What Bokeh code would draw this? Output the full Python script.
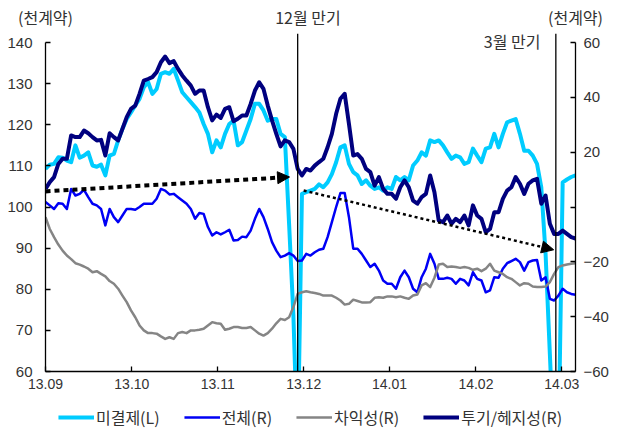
from bokeh.plotting import figure
from bokeh.layouts import column
from bokeh.models import (ColumnDataSource, Range1d, LinearAxis, FixedTicker, Span, Label,
                          Arrow, NormalHead, Legend, LegendItem)
from bokeh.embed import file_html
from bokeh.resources import INLINE

# ---------------- data (trading-day index, Sep 2013 - Mar 2014) ----------------
open_interest_L = [
    109.3, 110.3, 110.5, 112.1, 112.0, 111.3, 110.9, 115.0, 112.0, 112.5,
    113.3, 110.1, 109.8, 110.3, 107.7, 112.5, 112.9, 116.2, 119.0, 121.4,
    123.0, 124.7, 126.3, 129.1, 130.4, 127.5, 128.7, 132.4, 132.8, 132.4,
    133.6, 130.8, 127.9, 126.7, 125.5, 124.3, 123.0, 120.2, 117.8, 113.3,
    116.2, 114.5, 117.8, 120.2, 121.0, 115.0, 115.8, 118.6, 121.4, 125.1,
    125.1, 123.5, 121.0, 121.4, 121.4, 117.8, 117.0, 95.7, 73.6, 40.0,
    103.2, 103.6, 104.0, 104.4, 105.5, 104.8, 106.0, 108.0, 110.9, 114.5,
    115.0, 110.5, 108.5, 107.7, 105.6, 106.5, 105.2, 104.4, 104.8, 104.0,
    104.8, 104.4, 107.3, 106.5, 107.3, 106.5, 110.1, 111.3, 113.3, 112.5,
    116.2, 115.8, 116.2, 115.0, 113.3, 111.7, 112.5, 112.1, 110.5, 110.9,
    114.2, 112.5, 110.9, 114.2, 114.5, 117.8, 114.5, 117.8, 120.6, 121.0,
    121.4, 117.8, 113.7, 113.7, 112.5, 110.5, 104.8, 88.6, 64.3, 40.0,
    40.0, 106.0, 106.7, 107.3, 107.7]

total_R = [
    1.8, 0.6, -0.7, 1.4, 1.2, -0.7, 6.6, 4.2, 4.8, 6.3,
    3.6, 1.2, 0.6, -0.7, -6.7, -0.7, -3.7, -5.5, -3.1, -0.7,
    -0.7, -1.0, 0.0, 1.2, 1.2, 1.2, 3.0, 6.6, 6.0, 4.6,
    4.8, 3.6, 2.4, 1.2, -0.7, -4.3, -2.2, -2.5, -7.3, -10.4,
    -9.2, -10.0, -9.2, -8.3, -12.2, -12.0, -10.8, -11.0, -8.6, -4.3,
    -0.7, -3.7, -8.0, -12.8, -15.9, -18.3, -17.7, -16.8, -17.7, -19.7,
    -19.5, -17.1, -17.7, -16.5, -15.6, -15.2, -11.0, -5.5, 0.0, 5.1,
    5.1, -3.7, -15.2, -15.2, -17.1, -19.5, -21.9, -20.7, -23.2, -26.8,
    -28.0, -28.0, -29.8, -25.6, -23.2, -25.6, -29.8, -31.1, -25.6, -22.5,
    -17.1, -20.7, -26.2, -26.2, -25.8, -26.2, -28.0, -26.2, -26.8, -28.6,
    -23.8, -26.2, -26.8, -31.1, -30.4, -25.6, -25.8, -22.5, -20.5, -19.7,
    -18.9, -20.1, -23.2, -20.1, -19.5, -19.3, -26.8, -25.6, -33.5, -34.1,
    -32.3, -29.8, -31.1, -31.7, -32.0]

arbitrage_R = [
    -3.7, -8.0, -11.0, -13.7, -15.9, -17.7, -19.0, -20.5, -21.0, -21.7,
    -22.5, -23.8, -23.4, -24.4, -25.3, -27.0, -28.0, -29.8, -32.3, -34.7,
    -37.7, -40.2, -43.2, -45.0, -46.0, -46.0, -46.2, -47.2, -48.1, -47.5,
    -48.1, -46.0, -45.6, -46.0, -45.0, -45.0, -44.8, -44.4, -43.2, -42.0,
    -42.4, -42.6, -44.8, -44.4, -43.8, -43.8, -44.1, -44.1, -43.8, -45.0,
    -46.2, -46.9, -46.0, -44.4, -42.4, -40.8, -41.2, -40.2, -36.5, -31.7,
    -31.1, -30.7, -31.1, -31.4, -31.7, -32.3, -32.3, -32.3, -33.1, -34.1,
    -35.6, -35.3, -33.8, -34.3, -34.8, -34.8, -34.7, -33.1, -32.9, -33.1,
    -32.6, -32.6, -32.9, -32.6, -33.1, -33.5, -32.3, -31.9, -28.6, -27.8,
    -29.2, -25.8, -21.0, -20.7, -21.9, -21.7, -21.9, -22.2, -21.9, -22.2,
    -22.9, -22.5, -23.4, -22.5, -20.7, -23.2, -23.8, -24.4, -25.6, -26.2,
    -27.4, -28.6, -27.8, -28.0, -29.0, -29.2, -29.2, -29.0, -27.4, -24.4,
    -21.9, -21.3, -21.0, -20.7, -20.5]

spec_hedge_R = [
    6.6, 9.1, 10.9, 15.7, 17.6, 17.6, 26.1, 25.5, 25.5, 27.9,
    26.9, 25.5, 24.3, 24.5, 18.8, 26.9, 25.5, 24.3, 28.5, 32.8,
    35.8, 37.0, 41.3, 46.1, 46.7, 47.4, 49.2, 52.8, 54.9, 52.5,
    53.2, 50.4, 48.0, 46.1, 44.3, 41.3, 42.5, 42.5, 36.4, 31.6,
    33.7, 32.5, 35.8, 36.4, 31.3, 32.2, 33.4, 33.4, 37.6, 42.5,
    45.5, 43.1, 37.0, 31.6, 26.7, 22.1, 24.3, 23.7, 21.2, 13.9,
    11.5, 13.9, 13.3, 15.1, 16.4, 17.6, 21.8, 26.7, 34.0, 39.5,
    41.3, 30.3, 18.8, 19.3, 17.6, 13.9, 12.7, 7.8, 10.9, 6.6,
    4.8, 4.8, 3.0, 7.2, 9.7, 7.2, 2.3, 1.2, 3.6, 4.8,
    11.5, 5.4, -4.9, -5.5, -3.1, -6.1, -4.3, -5.5, -3.1, -6.7,
    0.6, -3.1, -4.3, -9.2, -8.0, -1.9, -1.9, 3.0, 6.0, 7.2,
    10.9, 8.5, 4.8, 8.5, 9.7, 10.3, 1.2, 4.2, -6.1, -9.8,
    -9.8, -8.6, -9.8, -11.0, -11.5]

day_index = list(range(len(open_interest_L)))

x_tick_pos = [0, 20.2, 40.3, 60.4, 80.5, 100.7, 120.8]
x_tick_labels = ["13.09", "13.10", "13.11", "13.12", "14.01", "14.02", "14.03"]
left_ticks = [60, 70, 80, 90, 100, 110, 120, 130, 140]
right_ticks = [-60, -40, -20, 0, 20, 40, 60]
right_labels = ["\u221260", "\u221240", "\u221220", "", "20", "40", "60"]
expiry_pos = [59.0, 119.4]
expiry_labels = ["12\uc6d4 \ub9cc\uae30", "3\uc6d4 \ub9cc\uae30"]
series_names = ["\ubbf8\uacb0\uc81c(L)", "\uc804\uccb4(R)", "\ucc28\uc775\uc131(R)", "\ud22c\uae30/\ud5e4\uc9c0\uc131(R)"]
unit_label = "(\ucc9c\uacc4\uc57d)"

# ---------------- figure ----------------
CYAN, BLUE, GRAY, NAVY = "#00CCFF", "#0000F5", "#858585", "#00007F"
COLORS = [CYAN, BLUE, GRAY, NAVY]
WIDTHS = [4, 2.5, 2.5, 4]
NUM_FONT = "Liberation Sans"
KR_FONT = "Noto Sans CJK KR"
TXT = "#333333"
X_END = 124

src = ColumnDataSource(dict(x=day_index, oi=open_interest_L, tot=total_R,
                            arb=arbitrage_R, spec=spec_hedge_R))

p = figure(frame_width=530, frame_height=338, output_backend="svg", toolbar_location=None,
           x_range=Range1d(0, X_END), y_range=Range1d(60, 142.2),
           min_border_left=45, min_border_right=41, min_border_top=33, min_border_bottom=31,
           y_axis_location=None)
p.extra_y_ranges = {"r": Range1d(-60, 63.3)}
p.outline_line_color = None
p.xgrid.visible = False
p.ygrid.visible = False
p.background_fill_color = "white"
p.border_fill_color = "white"

def style_axis(ax, size):
    ax.axis_line_color = "black"
    ax.axis_line_width = 1.3
    ax.major_tick_line_color = "black"
    ax.major_tick_line_width = 1.3
    ax.major_tick_in = 5
    ax.major_tick_out = 0
    ax.minor_tick_line_color = None
    ax.major_label_text_font = NUM_FONT
    ax.major_label_text_font_size = size
    ax.major_label_text_color = TXT

# bottom
xa = p.xaxis[0]
xa.ticker = FixedTicker(ticks=x_tick_pos)
xa.major_label_overrides = {k: v for k, v in zip(x_tick_pos, x_tick_labels)}
xa.major_label_standoff = 7
style_axis(xa, "14px")

# left
ya = LinearAxis(ticker=FixedTicker(ticks=left_ticks), bounds=(60, 140))
ya.major_label_standoff = 13
style_axis(ya, "15px")
p.add_layout(ya, "left")

# right
yr = LinearAxis(y_range_name="r", ticker=FixedTicker(ticks=right_ticks), bounds=(-60, 60))
yr.major_label_overrides = {k: v for k, v in zip(right_ticks, right_labels)}
yr.major_label_standoff = 8
style_axis(yr, "15px")
p.add_layout(yr, "right")

# top: unit labels and the December expiry label
top_pos = [0, 61.4, X_END]
top_labels = [unit_label, expiry_labels[0], unit_label]
ta = LinearAxis(ticker=FixedTicker(ticks=top_pos))
ta.major_label_overrides = {k: v for k, v in zip(top_pos, top_labels)}
ta.axis_line_color = None
ta.major_tick_line_color = None
ta.minor_tick_line_color = None
ta.major_label_standoff = -1
ta.major_label_text_font = KR_FONT
ta.major_label_text_font_size = "16px"
ta.major_label_text_color = TXT
p.add_layout(ta, "above")

# lines
p.line("x", "oi", source=src, line_color=CYAN, line_width=4, line_join="round")
p.line("x", "tot", source=src, y_range_name="r", line_color=BLUE, line_width=2.5, line_join="round")
p.line("x", "arb", source=src, y_range_name="r", line_color=GRAY, line_width=2.5, line_join="round")
p.line("x", "spec", source=src, y_range_name="r", line_color=NAVY, line_width=4, line_join="round")

# expiry lines
for pos in expiry_pos:
    p.add_layout(Span(location=pos, dimension="height", line_color="black", line_width=1.3))

# trend arrows
p.add_layout(Arrow(end=NormalHead(size=12, fill_color="black", line_color="black"),
                   x_start=0, y_start=103.8, x_end=57.1, y_end=107.3,
                   line_color="black", line_width=4, line_dash="5 4"))
p.add_layout(Arrow(end=NormalHead(size=12, fill_color="black", line_color="black"),
                   x_start=60.4, y_start=104.0, x_end=118.9, y_end=89.6,
                   line_color="black", line_width=2.5, line_dash="3 3"))

# March expiry label (inside the frame)
p.add_layout(Label(x=115.8, y=140.4, text=expiry_labels[1], text_align="right", text_baseline="middle",
                   text_font=KR_FONT, text_font_size="16px", text_color=TXT))

# ---------------- legend strip (separate small figure) ----------------
pl = figure(width=616, height=30, output_backend="svg", toolbar_location=None,
            x_range=Range1d(0, 1), y_range=Range1d(0, 1),
            x_axis_location=None, y_axis_location=None, min_border=0)
pl.outline_line_color = None
pl.xgrid.visible = False
pl.ygrid.visible = False
pl.background_fill_color = "white"
pl.border_fill_color = "white"
items = []
for name, c, w in zip(series_names, COLORS, WIDTHS):
    # legend-only renderer: its points lie outside the visible range
    r = pl.line(x=[5, 6], y=[5, 6], line_color=c, line_width=w)
    items.append(LegendItem(label=name, renderers=[r]))
legend = Legend(items=items, orientation="horizontal", location="center",
                glyph_width=36, glyph_height=18, label_standoff=2, spacing=24,
                padding=0, margin=0, border_line_color=None, background_fill_alpha=0,
                label_text_font=KR_FONT, label_text_font_size="16px", label_text_color=TXT,
                label_height=18)
pl.add_layout(legend)

layout = column(p, pl, spacing=0)
open("out.html", "w").write(file_html(layout, INLINE))
